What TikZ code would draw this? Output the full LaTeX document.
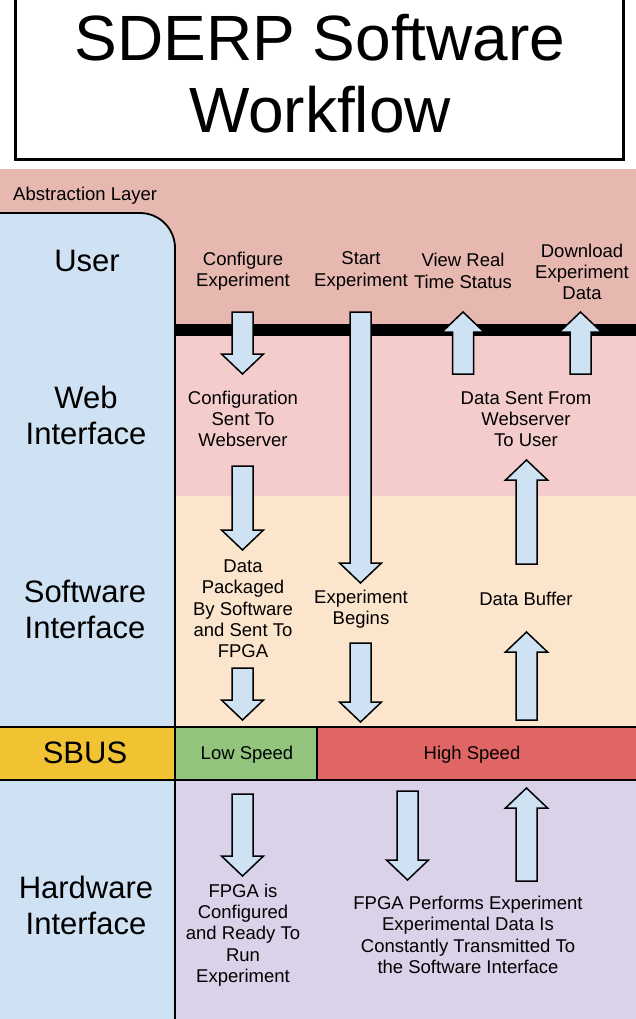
\documentclass[tikz,border=0pt]{standalone}
\usepackage{fontspec}
\setmainfont{Liberation Sans}
\definecolor{abscol}{HTML}{E6B8AF}
\definecolor{webcol}{HTML}{F4CCCC}
\definecolor{swcol}{HTML}{FCE5CD}
\definecolor{hwcol}{HTML}{D9D2E9}
\definecolor{leftcol}{HTML}{CFE2F3}
\definecolor{sbuscol}{HTML}{F1C232}
\definecolor{lowcol}{HTML}{93C47D}
\definecolor{highcol}{HTML}{E06666}
\tikzset{
  bodytext/.style={align=center, inner sep=0pt, font=\fontsize{18.5}{21.3}\selectfont},
  layertext/.style={align=center, inner sep=0pt, font=\fontsize{31}{36}\selectfont},
  titletext/.style={align=center, inner sep=0pt, font=\fontsize{64}{72}\selectfont},
  blockarrow/.style={fill=leftcol, draw=black, line width=1.5pt, line join=miter},
  bandline/.style={draw=black, line width=1.8pt}
}
\newcommand{\blkdown}[3]{\filldraw[blockarrow] (#1-10.5,#2) -- (#1+10.5,#2) -- (#1+10.5,#3-20) -- (#1+21,#3-20) -- (#1,#3) -- (#1-21,#3-20) -- (#1-10.5,#3-20) -- cycle;}
\newcommand{\blkup}[3]{\filldraw[blockarrow] (#1-10.5,#2) -- (#1+10.5,#2) -- (#1+10.5,#3+20) -- (#1+21,#3+20) -- (#1,#3) -- (#1-21,#3+20) -- (#1-10.5,#3+20) -- cycle;}
\begin{document}
\begin{tikzpicture}[x=1pt,y=-1pt]
\useasboundingbox (0,0) rectangle (636,1019);
\fill[white] (0,0) rectangle (636,1019);
% title
\draw[line width=3pt, fill=white] (15,-10) rectangle (623,160);
\node[titletext] (title) at (320,74) {SDERP Software\\Workflow};
% bands
\fill[abscol] (0,169) rectangle (636,330);
\fill[webcol] (0,330) rectangle (636,496);
\fill[swcol] (0,496) rectangle (636,727);
\fill[hwcol] (0,780) rectangle (636,1019);
\fill[black] (175,324) rectangle (636,336);
\node[bodytext, anchor=west, yshift=-2.5pt] (abs) at (13,193) {Abstraction Layer};
% left column
\filldraw[fill=leftcol, bandline] (-5,213) -- (140,213) arc[start angle=-90, end angle=0, radius=35] -- (175,1030) -- (-5,1030) -- cycle;
% SBUS row
\filldraw[fill=sbuscol, bandline] (-5,727) rectangle (175,780);
\filldraw[fill=lowcol, bandline] (175,727) rectangle (317,780);
\filldraw[fill=highcol, bandline] (317,727) rectangle (641,780);
% layer labels
\node[layertext] (user) at (87,261) {User};
\node[layertext] (web) at (86,415) {Web\\Interface};
\node[layertext] (sw) at (85,609) {Software\\Interface};
\node[layertext] (sbus) at (85,753) {SBUS};
\node[layertext] (hw) at (86,905) {Hardware\\Interface};
\node[bodytext, yshift=-2pt] (low) at (247,753) {Low Speed};
\node[bodytext, yshift=-2pt] (high) at (472,753) {High Speed};
% texts
\node[bodytext] (conf) at (243,271) {Configure\\Experiment};
\node[bodytext] (start) at (361,271) {Start\\Experiment};
\node[bodytext] (view) at (463,271) {View Real\\Time Status};
\node[bodytext] (down) at (582,272) {Download\\Experiment\\Data};
\node[bodytext] (sent) at (243,419) {Configuration\\Sent To\\Webserver};
\node[bodytext] (fromws) at (526,419) {Data Sent From\\Webserver\\To User};
\node[bodytext] (pack) at (243,609) {Data\\Packaged\\By Software\\and Sent To\\FPGA};
\node[bodytext] (begins) at (361,609) {Experiment\\Begins};
\node[bodytext] (buffer) at (526,599) {Data Buffer};
\node[bodytext] (ready) at (243,935) {FPGA is\\Configured\\and Ready To\\Run\\Experiment};
\node[bodytext] (perf) at (468,935) {FPGA Performs Experiment\\Experimental Data Is\\Constantly Transmitted To\\the Software Interface};
% block arrows
\blkdown{242.5}{312}{374}
\blkdown{242.5}{466}{550}
\blkdown{242.5}{668}{720}
\blkdown{360.5}{312}{583}
\blkdown{360.5}{643}{722}
\blkup{463}{374}{312}
\blkup{580.5}{374}{312}
\blkup{526.5}{564}{460}
\blkup{526.5}{720}{632}
\blkdown{242.5}{794}{876}
\blkdown{407.5}{791}{880}
\blkup{526.5}{881}{788}
\end{tikzpicture}
\end{document}
